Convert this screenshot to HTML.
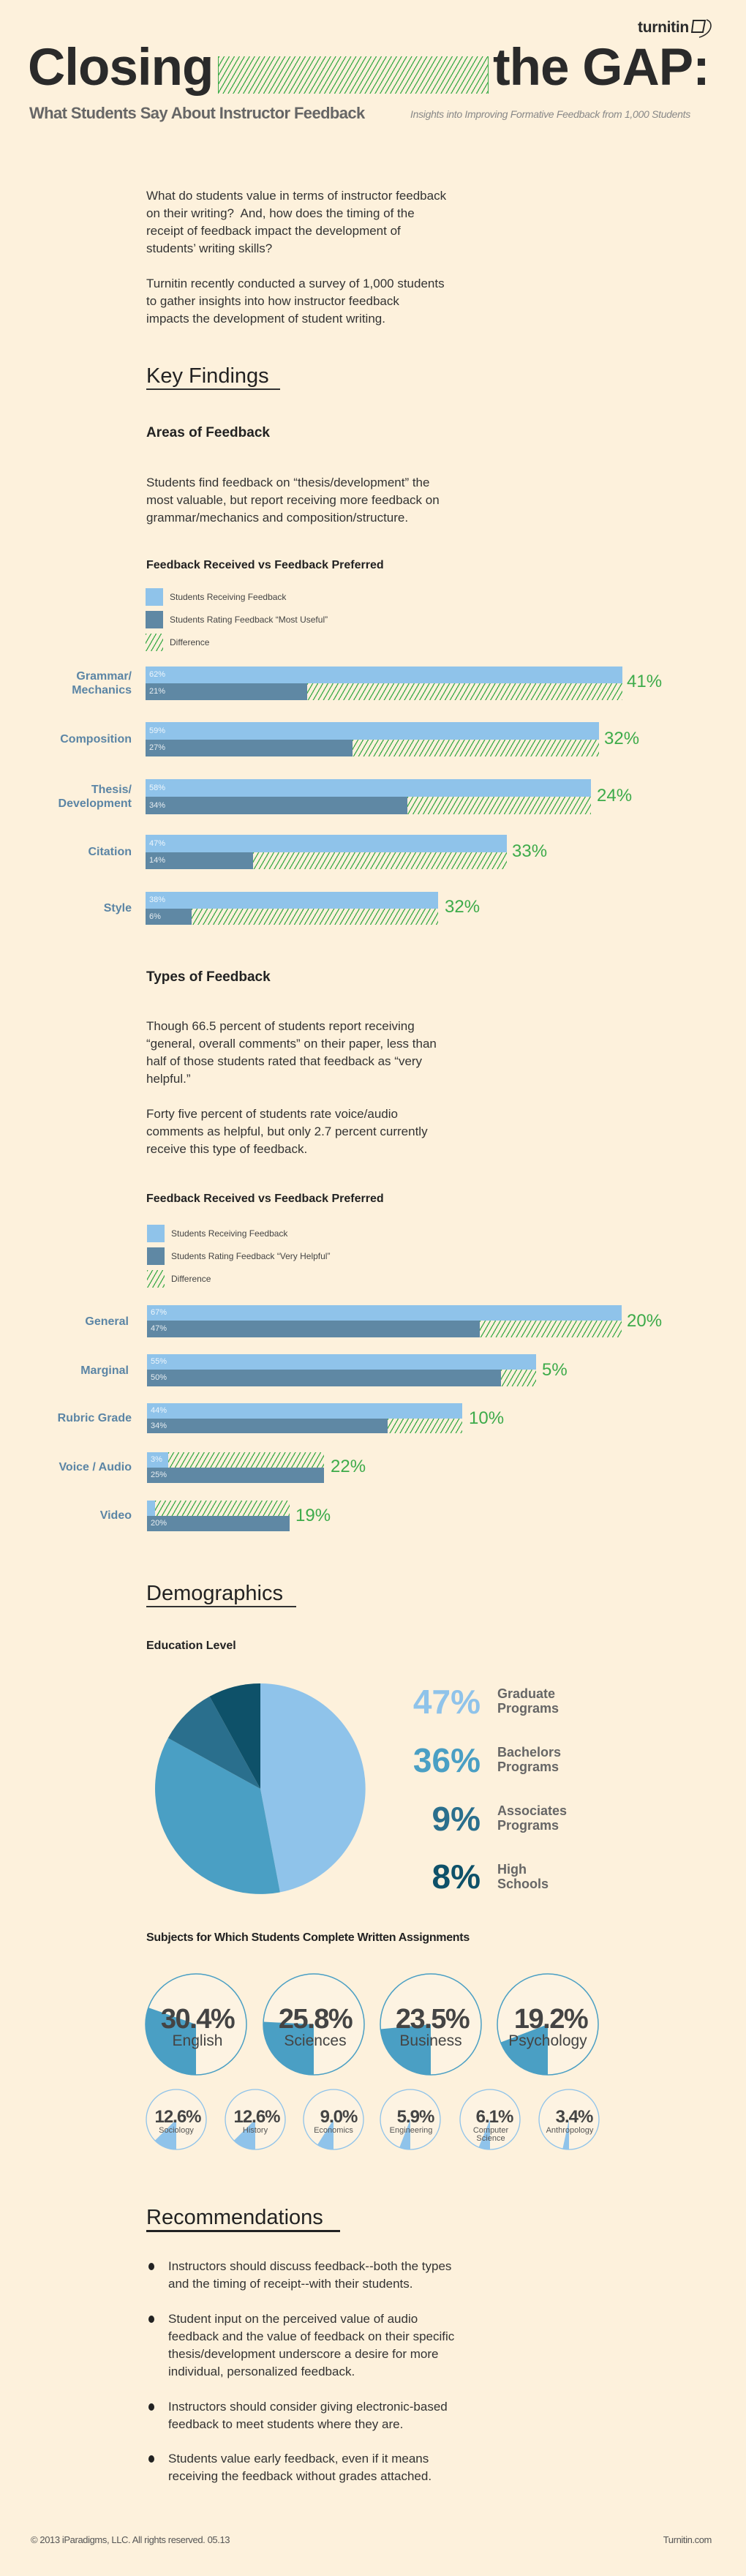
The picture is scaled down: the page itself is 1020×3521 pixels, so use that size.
<!DOCTYPE html>
<html><head><meta charset="utf-8">
<style>
*{margin:0;padding:0;box-sizing:border-box}
body{width:1020px;height:3521px;background:#fdf1dc;font-family:"Liberation Sans",sans-serif;color:#333;position:relative;overflow:hidden}
.a{position:absolute;white-space:nowrap}
.p{font-size:17px;line-height:24px;color:#333}
.h2{font-size:29px;line-height:34px;color:#222;border-bottom:2px solid #333;padding-bottom:0}
.h3{font-size:19px;font-weight:bold;color:#222}
.ct{font-size:16px;font-weight:bold;color:#222}
.lg{font-size:12px;color:#444}
.hatch{background:repeating-linear-gradient(120deg,#3dab4a 0 1.3px,transparent 1.3px 6px)}
.lt{background:#8fc3ea}
.dk{background:#5f88a4}
.bl{font-size:11px;color:rgba(255,255,255,.85);padding-left:5px}
.lab{font-size:16px;font-weight:bold;color:#5b85a5;text-align:right;width:180px;left:0;line-height:19px;white-space:normal}
.gp{font-size:24px;color:#3dab4a}
.big{font-size:46px;font-weight:bold;text-align:right;width:140px;left:517px;line-height:40px}
.bigl{font-size:18px;font-weight:bold;color:#666;left:680px;line-height:20px}
</style></head><body>

<!-- logo -->
<div class="a" style="left:872px;top:26px;font-size:21px;font-weight:bold;color:#2a2a2a;letter-spacing:-0.3px">turnitin</div>
<svg class="a" style="left:944px;top:24px" width="34" height="30"><path d="M4 4 L20 4 L17 20 L2 20 Z" fill="none" stroke="#2a2a2a" stroke-width="2"/><path d="M22 3 C32 6 30 22 12 27" fill="none" stroke="#2a2a2a" stroke-width="1.6"/></svg>

<!-- title -->
<div class="a" style="left:38px;top:52px;font-size:71px;font-weight:bold;color:#2a2a2a;letter-spacing:-1px">Closing</div>
<div class="a hatch" style="left:298px;top:77px;width:370px;height:51px;border-left:1px solid #3dab4a;border-right:1px solid #3dab4a"></div>
<div class="a" style="left:674px;top:52px;font-size:71px;font-weight:bold;color:#2a2a2a;letter-spacing:-1px">the GAP:</div>
<div class="a" style="left:40px;top:142px;font-size:22px;font-weight:bold;color:#666;letter-spacing:-0.6px">What Students Say About Instructor Feedback</div>
<div class="a" style="left:561px;top:148px;font-size:14px;font-style:italic;color:#888;letter-spacing:-0.3px">Insights into Improving Formative Feedback from 1,000 Students</div>

<div class="a p" style="left:200px;top:256px">What do students value in terms of instructor feedback<br>on their writing?&nbsp; And, how does the timing of the<br>receipt of feedback impact the development of<br>students’ writing skills?</div>
<div class="a p" style="left:200px;top:376px">Turnitin recently conducted a survey of 1,000 students<br>to gather insights into how instructor feedback<br>impacts the development of student writing.</div>

<div class="a h2" style="left:200px;top:497px;width:183px">Key Findings</div>

<div class="a h3" style="left:200px;top:581px">Areas of Feedback</div>
<div class="a p" style="left:200px;top:648px">Students find feedback on “thesis/development” the<br>most valuable, but report receiving more feedback on<br>grammar/mechanics and composition/structure.</div>
<div class="a ct" style="left:200px;top:764px">Feedback Received vs Feedback Preferred</div>
<div class="a lt" style="left:199px;top:804px;width:24px;height:24px"></div>
<div class="a lg" style="left:232px;top:809px">Students Receiving Feedback</div>
<div class="a dk" style="left:199px;top:835px;width:24px;height:24px"></div>
<div class="a lg" style="left:232px;top:840px">Students Rating Feedback “Most Useful”</div>
<div class="a hatch" style="left:199px;top:866px;width:24px;height:24px"></div>
<div class="a lg" style="left:232px;top:871px">Difference</div>

<!-- chart 1 -->
<div class="a lab" style="top:915px">Grammar/<br>Mechanics</div>
<div class="a lt bl" style="left:199px;top:911px;width:652px;height:23px;line-height:23px">62%</div>
<div class="a dk bl" style="left:199px;top:934px;width:221px;height:23px;line-height:23px">21%</div>
<div class="a hatch" style="left:420px;top:934px;width:431px;height:23px"></div>
<div class="a gp" style="left:857px;top:918px">41%</div>

<div class="a lab" style="top:1001px">Composition</div>
<div class="a lt bl" style="left:199px;top:987px;width:620px;height:24px;line-height:24px">59%</div>
<div class="a dk bl" style="left:199px;top:1011px;width:283px;height:23px;line-height:23px">27%</div>
<div class="a hatch" style="left:482px;top:1011px;width:337px;height:23px"></div>
<div class="a gp" style="left:826px;top:996px">32%</div>

<div class="a lab" style="top:1070px">Thesis/<br>Development</div>
<div class="a lt bl" style="left:199px;top:1065px;width:609px;height:24px;line-height:24px">58%</div>
<div class="a dk bl" style="left:199px;top:1089px;width:358px;height:24px;line-height:24px">34%</div>
<div class="a hatch" style="left:557px;top:1089px;width:251px;height:24px"></div>
<div class="a gp" style="left:816px;top:1074px">24%</div>

<div class="a lab" style="top:1155px">Citation</div>
<div class="a lt bl" style="left:199px;top:1141px;width:494px;height:24px;line-height:24px">47%</div>
<div class="a dk bl" style="left:199px;top:1165px;width:147px;height:23px;line-height:23px">14%</div>
<div class="a hatch" style="left:346px;top:1165px;width:347px;height:23px"></div>
<div class="a gp" style="left:700px;top:1150px">33%</div>

<div class="a lab" style="top:1232px">Style</div>
<div class="a lt bl" style="left:199px;top:1219px;width:400px;height:23px;line-height:23px">38%</div>
<div class="a dk bl" style="left:199px;top:1242px;width:63px;height:22px;line-height:22px">6%</div>
<div class="a hatch" style="left:262px;top:1242px;width:337px;height:22px"></div>
<div class="a gp" style="left:608px;top:1226px">32%</div>

<!-- types -->
<div class="a h3" style="left:200px;top:1325px">Types of Feedback</div>
<div class="a p" style="left:200px;top:1391px">Though 66.5 percent of students report receiving<br>“general, overall comments” on their paper, less than<br>half of those students rated that feedback as “very<br>helpful.”</div>
<div class="a p" style="left:200px;top:1511px">Forty five percent of students rate voice/audio<br>comments as helpful, but only 2.7 percent currently<br>receive this type of feedback.</div>
<div class="a ct" style="left:200px;top:1630px">Feedback Received vs Feedback Preferred</div>
<div class="a lt" style="left:201px;top:1674px;width:24px;height:24px"></div>
<div class="a lg" style="left:234px;top:1679px">Students Receiving Feedback</div>
<div class="a dk" style="left:201px;top:1705px;width:24px;height:24px"></div>
<div class="a lg" style="left:234px;top:1710px">Students Rating Feedback “Very Helpful”</div>
<div class="a hatch" style="left:201px;top:1736px;width:24px;height:24px"></div>
<div class="a lg" style="left:234px;top:1741px">Difference</div>

<div class="a lab" style="top:1797px;width:176px">General</div>
<div class="a lt bl" style="left:201px;top:1784px;width:649px;height:21px;line-height:21px">67%</div>
<div class="a dk bl" style="left:201px;top:1805px;width:455px;height:23px;line-height:23px">47%</div>
<div class="a hatch" style="left:656px;top:1805px;width:194px;height:23px"></div>
<div class="a gp" style="left:857px;top:1792px">20%</div>

<div class="a lab" style="top:1864px;width:176px">Marginal</div>
<div class="a lt bl" style="left:201px;top:1851px;width:532px;height:21px;line-height:21px">55%</div>
<div class="a dk bl" style="left:201px;top:1872px;width:484px;height:23px;line-height:23px">50%</div>
<div class="a hatch" style="left:685px;top:1872px;width:48px;height:23px"></div>
<div class="a gp" style="left:741px;top:1859px">5%</div>

<div class="a lab" style="top:1929px">Rubric Grade</div>
<div class="a lt bl" style="left:201px;top:1918px;width:431px;height:21px;line-height:21px">44%</div>
<div class="a dk bl" style="left:201px;top:1939px;width:329px;height:20px;line-height:20px">34%</div>
<div class="a hatch" style="left:530px;top:1939px;width:102px;height:20px"></div>
<div class="a gp" style="left:641px;top:1925px">10%</div>

<div class="a lab" style="top:1996px">Voice / Audio</div>
<div class="a lt bl" style="left:201px;top:1985px;width:29px;height:21px;line-height:21px">3%</div>
<div class="a hatch" style="left:230px;top:1985px;width:213px;height:21px"></div>
<div class="a dk bl" style="left:201px;top:2006px;width:242px;height:21px;line-height:21px">25%</div>
<div class="a gp" style="left:452px;top:1991px">22%</div>

<div class="a lab" style="top:2062px">Video</div>
<div class="a lt" style="left:201px;top:2051px;width:11px;height:21px"></div>
<div class="a hatch" style="left:212px;top:2051px;width:184px;height:21px"></div>
<div class="a dk bl" style="left:201px;top:2072px;width:195px;height:21px;line-height:21px">20%</div>
<div class="a gp" style="left:404px;top:2058px">19%</div>

<!-- demographics -->
<div class="a h2" style="left:200px;top:2161px;width:205px">Demographics</div>
<div class="a ct" style="left:200px;top:2241px">Education Level</div>
<svg class="a" style="left:0;top:0" width="1020" height="3521">
<g transform="translate(356,2445)">
<path d="M0,0 L0,-144 A144,144 0 0 1 26.9,141.4 Z" fill="#8fc3ea"/>
<path d="M0,0 L26.9,141.4 A144,144 0 0 1 -126.2,-69.4 Z" fill="#4a9fc4"/>
<path d="M0,0 L-126.2,-69.4 A144,144 0 0 1 -69.4,-126.2 Z" fill="#2a6f8d"/>
<path d="M0,0 L-69.4,-126.2 A144,144 0 0 1 0,-144 Z" fill="#0e5169"/>
</g>
<!-- big subject circles -->
<g fill="#4a9fc4">
<g transform="translate(268,2767)"><circle r="69" fill="#fdf3e2" stroke="#4a9fc4" stroke-width="1.5"/><path d="M0,0 L0,69 A69,69 0 0 1 -65.1,-22.9 Z"/></g>
<g transform="translate(429,2767)"><circle r="69" fill="#fdf3e2" stroke="#4a9fc4" stroke-width="1.5"/><path d="M0,0 L0,69 A69,69 0 0 1 -68.9,-3.5 Z"/></g>
<g transform="translate(589,2767)"><circle r="69" fill="#fdf3e2" stroke="#4a9fc4" stroke-width="1.5"/><path d="M0,0 L0,69 A69,69 0 0 1 -68.7,6.5 Z"/></g>
<g transform="translate(749,2767)"><circle r="69" fill="#fdf3e2" stroke="#4a9fc4" stroke-width="1.5"/><path d="M0,0 L0,69 A69,69 0 0 1 -64.5,24.6 Z"/></g>
</g>
<g fill="#8fc3ea">
<g transform="translate(241,2897)"><circle r="41" fill="#fdf3e2" stroke="#8fc3ea" stroke-width="1.3"/><path d="M0,0 L0,41 A41,41 0 0 1 -29.2,28.8 Z"/></g>
<g transform="translate(349,2897)"><circle r="41" fill="#fdf3e2" stroke="#8fc3ea" stroke-width="1.3"/><path d="M0,0 L0,41 A41,41 0 0 1 -29.2,28.8 Z"/></g>
<g transform="translate(456,2897)"><circle r="41" fill="#fdf3e2" stroke="#8fc3ea" stroke-width="1.3"/><path d="M0,0 L0,41 A41,41 0 0 1 -22.0,34.6 Z"/></g>
<g transform="translate(561,2897)"><circle r="41" fill="#fdf3e2" stroke="#8fc3ea" stroke-width="1.3"/><path d="M0,0 L0,41 A41,41 0 0 1 -14.8,38.2 Z"/></g>
<g transform="translate(670,2897)"><circle r="41" fill="#fdf3e2" stroke="#8fc3ea" stroke-width="1.3"/><path d="M0,0 L0,41 A41,41 0 0 1 -15.4,38.0 Z"/></g>
<g transform="translate(778,2897)"><circle r="41" fill="#fdf3e2" stroke="#8fc3ea" stroke-width="1.3"/><path d="M0,0 L0,41 A41,41 0 0 1 -8.7,40.1 Z"/></g>
</g>
<g font-family="Liberation Sans, sans-serif" fill="#444" text-anchor="middle">
<g font-size="38" font-weight="bold" letter-spacing="-1.5">
<text x="270" y="2772">30.4%</text><text x="431" y="2772">25.8%</text><text x="591" y="2772">23.5%</text><text x="753" y="2772">19.2%</text>
</g>
<g font-size="21">
<text x="270" y="2796">English</text><text x="431" y="2796">Sciences</text><text x="589" y="2796">Business</text><text x="749" y="2796">Psychology</text>
</g>
<g font-size="24" font-weight="bold" letter-spacing="-1">
<text x="243" y="2901">12.6%</text><text x="351" y="2901">12.6%</text><text x="463" y="2901">9.0%</text><text x="568" y="2901">5.9%</text><text x="676" y="2901">6.1%</text><text x="785" y="2901">3.4%</text>
</g>
<g font-size="11" fill="#555">
<text x="241" y="2915">Sociology</text><text x="349" y="2915">History</text><text x="456" y="2915">Economics</text><text x="562" y="2915">Engineering</text><text x="671" y="2915">Computer</text><text x="671" y="2926">Science</text><text x="779" y="2915">Anthropology</text>
</g>
</g>
</svg>

<div class="a big" style="top:2306px;color:#8fc3ea">47%</div>
<div class="a bigl" style="top:2305px">Graduate<br>Programs</div>
<div class="a big" style="top:2386px;color:#4a9fc4">36%</div>
<div class="a bigl" style="top:2385px">Bachelors<br>Programs</div>
<div class="a big" style="top:2466px;color:#2a6f8d">9%</div>
<div class="a bigl" style="top:2465px">Associates<br>Programs</div>
<div class="a big" style="top:2545px;color:#0e5169">8%</div>
<div class="a bigl" style="top:2545px">High<br>Schools</div>

<div class="a ct" style="left:200px;top:2640px;letter-spacing:-0.3px">Subjects for Which Students Complete Written Assignments</div>

<!-- recommendations -->
<div class="a h2" style="left:200px;top:3014px;width:265px;border-bottom:3px solid #222">Recommendations</div>
<div class="a p" style="left:230px;top:3086px">Instructors should discuss feedback--both the types<br>and the timing of receipt--with their students.</div>
<div class="a p" style="left:230px;top:3158px">Student input on the perceived value of audio<br>feedback and the value of feedback on their specific<br>thesis/development underscore a desire for more<br>individual, personalized feedback.</div>
<div class="a p" style="left:230px;top:3278px">Instructors should consider giving electronic-based<br>feedback to meet students where they are.</div>
<div class="a p" style="left:230px;top:3349px">Students value early feedback, even if it means<br>receiving the feedback without grades attached.</div>
<div class="a" style="left:203px;top:3093px;width:8px;height:10px;border-radius:50%;background:#222"></div>
<div class="a" style="left:203px;top:3165px;width:8px;height:10px;border-radius:50%;background:#222"></div>
<div class="a" style="left:203px;top:3285px;width:8px;height:10px;border-radius:50%;background:#222"></div>
<div class="a" style="left:203px;top:3356px;width:8px;height:10px;border-radius:50%;background:#222"></div>

<div class="a" style="left:42px;top:3464px;font-size:13px;color:#555;letter-spacing:-0.4px">© 2013 iParadigms, LLC. All rights reserved. 05.13</div>
<div class="a" style="left:900px;top:3464px;font-size:13px;color:#555;width:73px;text-align:right;letter-spacing:-0.4px">Turnitin.com</div>
</body></html>
